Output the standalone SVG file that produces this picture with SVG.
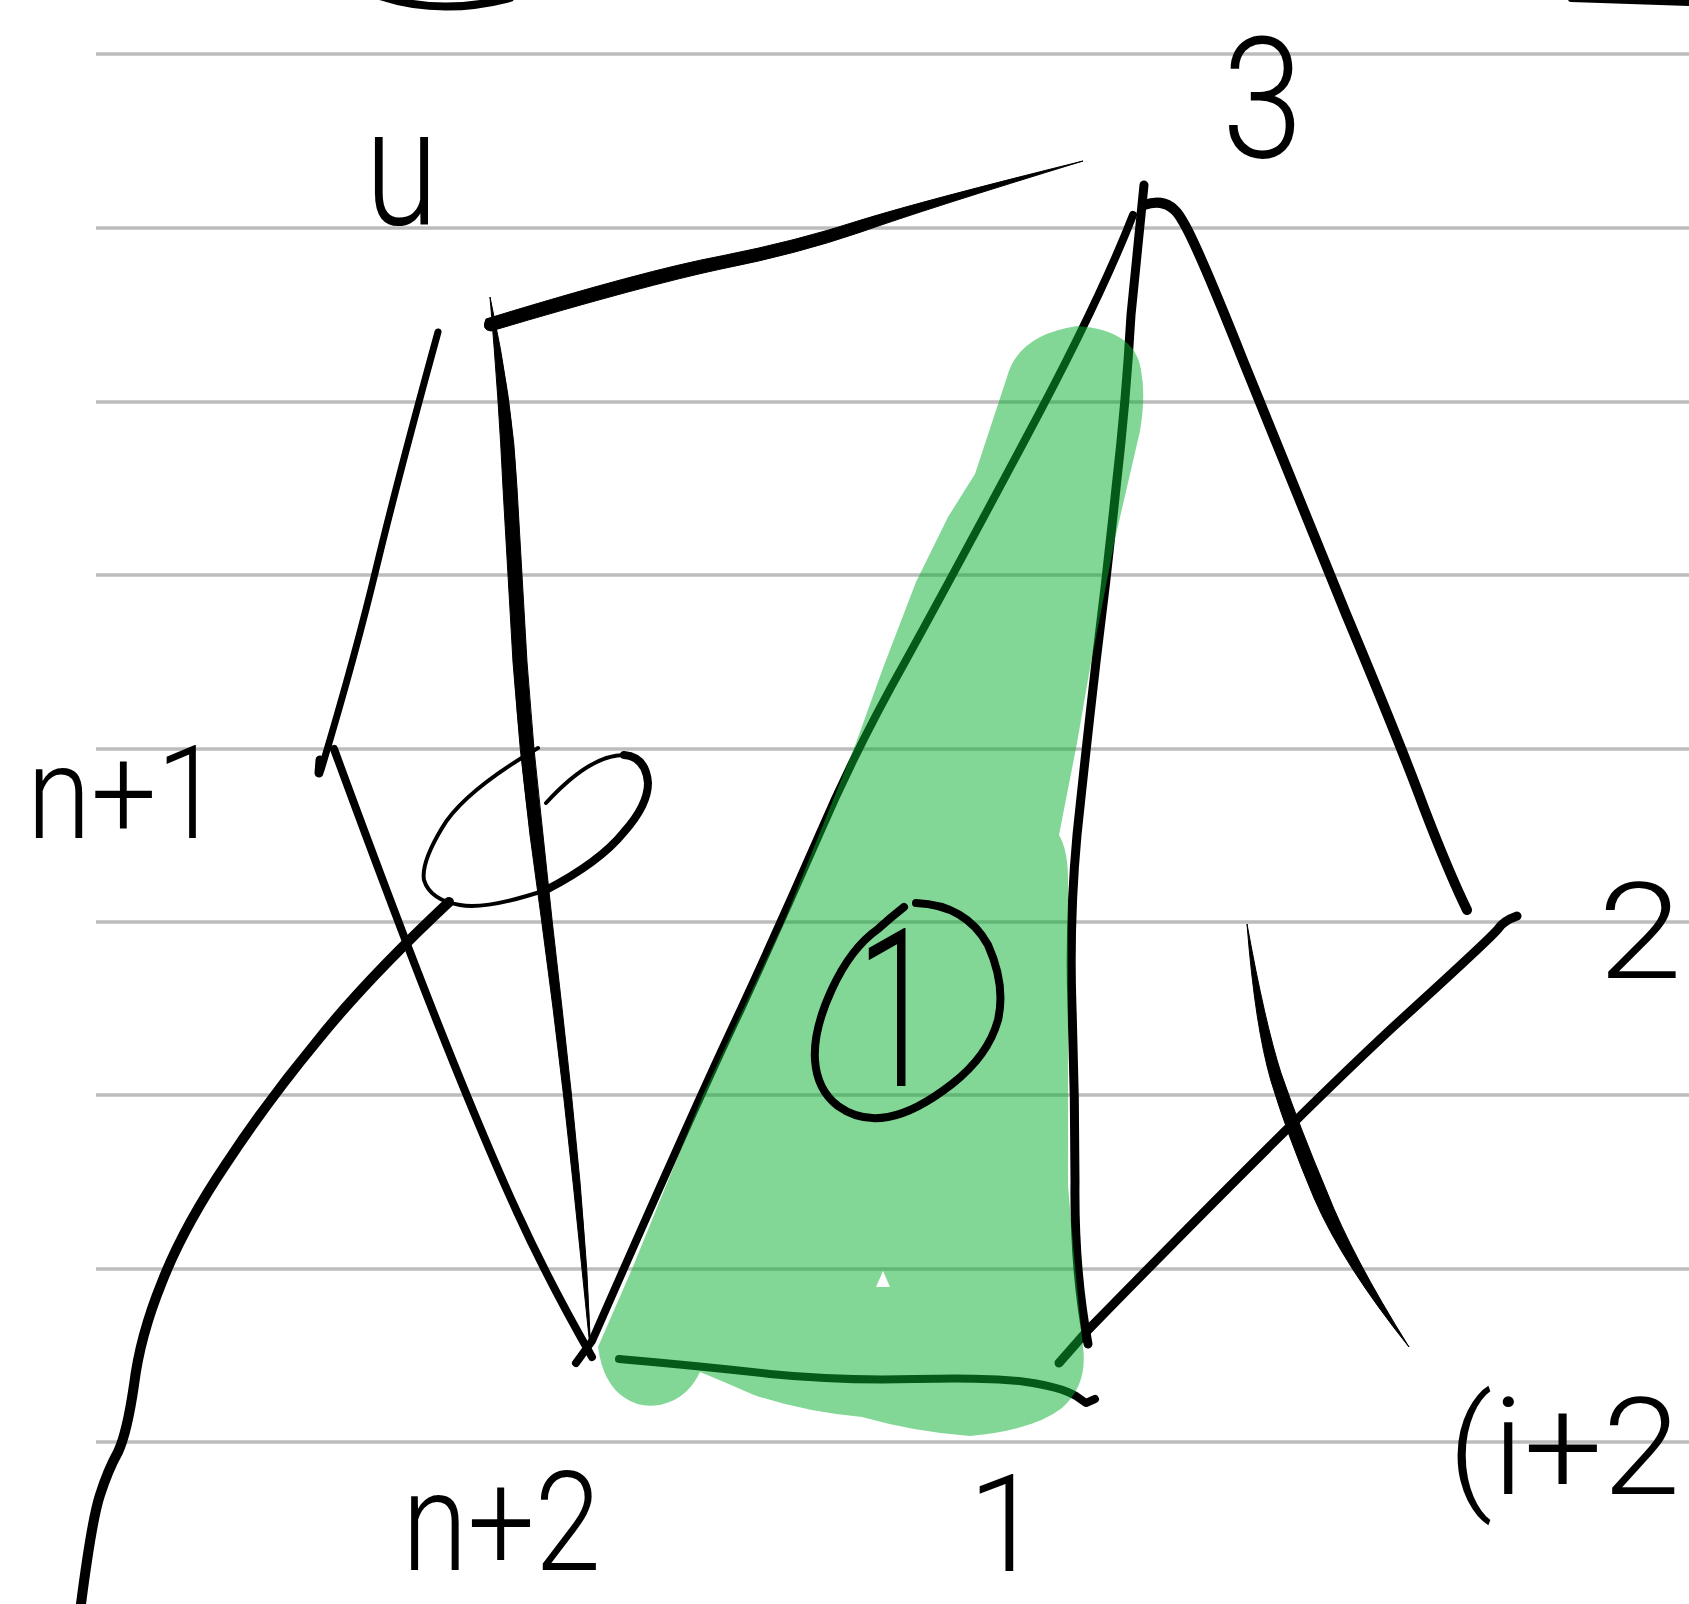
<svg xmlns="http://www.w3.org/2000/svg" width="1689" height="1604" viewBox="0 0 1689 1604">
<style>
.rule{stroke:#bcbcbc;stroke-width:3.5;fill:none}
.s{fill:none;stroke:#000;stroke-linecap:round;stroke-linejoin:round}
.f{fill:#000;stroke:#000;stroke-width:1;stroke-linejoin:round}
.h{font-family:"Roboto","Liberation Sans",sans-serif;font-weight:300;fill:#000}
</style>
<rect width="1689" height="1604" fill="#fff"/>
<g id="rules">
<line class="rule" x1="96" y1="54" x2="1689" y2="54"/>
<line class="rule" x1="96" y1="228" x2="1689" y2="228"/>
<line class="rule" x1="96" y1="402" x2="1689" y2="402"/>
<line class="rule" x1="96" y1="575" x2="1689" y2="575"/>
<line class="rule" x1="96" y1="749" x2="1689" y2="749"/>
<line class="rule" x1="96" y1="922" x2="1689" y2="922"/>
<line class="rule" x1="96" y1="1095" x2="1689" y2="1095"/>
<line class="rule" x1="96" y1="1269" x2="1689" y2="1269"/>
<line class="rule" x1="96" y1="1442" x2="1689" y2="1442"/>
</g>
<g id="strokes">
<path class="s" stroke-width="8" d="M380 -4Q440 16 510 -2"/>
<path class="s" stroke-width="6" d="M1571 -1L1689 3"/>
<path class="f" d="M486 319Q646 270 721 256Q797 241 861 220Q926 200 1083 161Q926 209 861 232Q797 254 721 269Q646 285 491 331Q481 330 486 319Z"/>
<path class="f" d="M490 297Q513 402 517 488Q522 575 527 662Q533 749 543 835Q552 922 562 1008Q572 1095 580 1182Q588 1269 591 1357Q582 1269 573 1182Q564 1095 553 1008Q542 922 530 835Q519 749 513 662Q508 575 503 488Q499 402 490 297Z"/>
<path class="s" stroke-width="7" d="M438 332Q399 474 377 565Q355 657 321 770"/>
<path class="s" stroke-width="9" d="M320 760L319 773"/>
<path class="s" stroke-width="8" d="M334 749Q399 926 442 1034Q485 1142 517 1212Q549 1282 592 1357"/>
<path class="s" stroke-width="4" d="M538 748Q463 792 442 828Q421 863 424 880Q430 900 460 905Q486 910 546 890"/>
<path class="s" stroke-width="8" d="M546 890Q600 862 624 832Q648 805 648 783Q646 757 624 755"/>
<path class="s" stroke-width="4" d="M624 755Q590 755 546 803"/>
<path class="s" stroke-width="10" d="M449 902Q366 980 318 1040Q269 1099 226 1164Q183 1228 162 1282Q140 1336 134 1385Q127 1433 118 1452Q108 1470 100 1495Q92 1519 81 1604"/>
<path class="s" stroke-width="8" d="M1133 215Q1099 302 1026 438Q953 575 905 662Q856 749 819 835Q781 922 741 1009Q700 1095 592 1341L576 1363"/>
<path class="s" stroke-width="9" d="M1144 185L1131 315Q1126 402 1116 488Q1107 575 1096 662Q1086 749 1077 835Q1069 922 1072 1008Q1075 1095 1075 1182Q1074 1269 1088 1344"/>
<path class="s" stroke-width="10" d="M1144 205Q1169 196 1182 220Q1196 242 1244 363Q1293 485 1346 614Q1400 743 1424 808Q1449 873 1467 910"/>
<path class="s" stroke-width="9" d="M1059 1363L1088 1330Q1293 1120 1392 1028Q1492 937 1498 929Q1503 921 1517 916"/>
<path class="f" d="M1247 924Q1265 1023 1281 1073Q1300 1128 1327 1192Q1352 1256 1409 1347Q1342 1263 1314 1198Q1287 1134 1271 1081Q1255 1026 1247 924Z"/>
<path class="s" stroke-width="8" d="M619 1359Q700 1366 770 1374Q840 1381 915 1379Q991 1377 1026 1382Q1061 1387 1076 1396L1086 1403L1095 1399"/>
</g>
<path id="highlight" fill="rgb(10,176,51)" fill-opacity=".51" d="M1077 326Q1135 330 1141 370Q1146 395 1140 431L1115 539L1090 668L1077 743L1059 835Q1068 850 1068 880L1068 1185Q1075 1270 1083 1347Q1088 1385 1062 1408Q1034 1430 970 1436Q915 1432 862 1417Q805 1412 754 1395Q715 1378 700 1372Q690 1393 672 1401Q646 1412 625 1398Q603 1384 598 1347L632 1269L703 1095L784 922L856 743L883 668L916 582L948 517Q965 490 975 474L1007 377Q1018 335 1077 326Z"/>
<path id="notch" fill="#fff" d="M883 1271L876 1287L890 1287Z"/>
<path id="ring" class="s" stroke-width="8" d="M916 903Q966 905 988 945Q1006 985 998 1020Q988 1056 952 1084Q916 1112 888 1117Q860 1122 838 1106Q817 1090 815 1060Q813 1030 832 989Q851 948 878 929Q890 918 904 907"/>
<g id="labels">
<text class="h" x="365" y="224" font-size="165" textLength="73" lengthAdjust="spacingAndGlyphs">u</text>
<text class="h" x="1222" y="157" font-size="168" textLength="81" lengthAdjust="spacingAndGlyphs">3</text>
<text class="h" x="27" y="838" font-size="130" textLength="194" lengthAdjust="spacingAndGlyphs">n+1</text>
<text class="h" x="1598" y="978" font-size="134" textLength="84" lengthAdjust="spacingAndGlyphs">2</text>
<text class="h" x="402" y="1570" font-size="140" textLength="199" lengthAdjust="spacingAndGlyphs">n+2</text>
<text class="h" x="968" y="1571" font-size="135" textLength="74" lengthAdjust="spacingAndGlyphs">1</text>
<text class="h" x="1448" y="1494" font-size="136" textLength="232" lengthAdjust="spacingAndGlyphs">(i+2</text>
<text class="h" x="856" y="1086" font-size="220" textLength="81" lengthAdjust="spacingAndGlyphs">1</text>
</g>
</svg>
